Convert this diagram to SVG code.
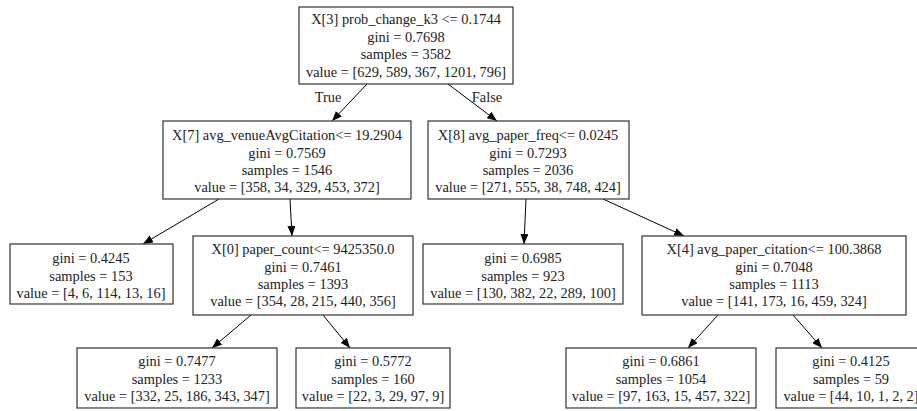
<svg xmlns="http://www.w3.org/2000/svg" width="917" height="411" viewBox="0 0 917 411">
<defs>
<marker id="ah" markerWidth="10" markerHeight="8" refX="10" refY="4" orient="auto" markerUnits="userSpaceOnUse">
<path d="M0,0 L10,4 L0,8 z" fill="#000"/>
</marker>
<style>
rect{fill:#fff;stroke:#333;stroke-width:1.2}
text{font-family:"Liberation Serif","Times New Roman",serif;font-size:14.4px;fill:#222;text-anchor:middle}
.e line{stroke:#000;stroke-width:1;marker-end:url(#ah)}
</style>
</defs>
<rect x="0" y="0" width="917" height="411" style="stroke:none"/>
<g class="e" id="edges">
<line x1="367" y1="84" x2="332" y2="121"/>
<line x1="448" y1="84" x2="497" y2="121"/>
<line x1="219" y1="199" x2="143" y2="244"/>
<line x1="290" y1="199" x2="292" y2="236"/>
<line x1="526" y1="199" x2="524" y2="244"/>
<line x1="603" y1="199" x2="684" y2="236"/>
<line x1="251" y1="315" x2="212" y2="348"/>
<line x1="323" y1="315" x2="350" y2="348"/>
<line x1="718" y1="315" x2="688" y2="348"/>
<line x1="793" y1="315" x2="822" y2="348"/>
<text x="328" y="102">True</text>
<text x="487" y="102">False</text>
</g>
<g id="n0">
<rect x="299" y="7" width="214" height="77"/>
<text x="406" y="24">X[3] prob_change_k3 &lt;= 0.1744</text>
<text x="406" y="42">gini = 0.7698</text>
<text x="406" y="59">samples = 3582</text>
<text x="406" y="77">value = [629, 589, 367, 1201, 796]</text>
</g>
<g id="n1">
<rect x="163" y="121" width="248" height="78"/>
<text x="287" y="140">X[7] avg_venueAvgCitation&lt;= 19.2904</text>
<text x="287" y="158">gini = 0.7569</text>
<text x="287" y="175">samples = 1546</text>
<text x="287" y="192">value = [358, 34, 329, 453, 372]</text>
</g>
<g id="n2">
<rect x="428" y="121" width="201" height="78"/>
<text x="528" y="140">X[8] avg_paper_freq&lt;= 0.0245</text>
<text x="528" y="158">gini = 0.7293</text>
<text x="528" y="175">samples = 2036</text>
<text x="528" y="192">value = [271, 555, 38, 748, 424]</text>
</g>
<g id="n3">
<rect x="10" y="244" width="163" height="60"/>
<text x="91" y="263">gini = 0.4245</text>
<text x="91" y="281">samples = 153</text>
<text x="91" y="298">value = [4, 6, 114, 13, 16]</text>
</g>
<g id="n4">
<rect x="193" y="236" width="220" height="79"/>
<text x="303" y="254">X[0] paper_count&lt;= 9425350.0</text>
<text x="303" y="272">gini = 0.7461</text>
<text x="303" y="289">samples = 1393</text>
<text x="303" y="306">value = [354, 28, 215, 440, 356]</text>
</g>
<g id="n5">
<rect x="423" y="244" width="200" height="60"/>
<text x="523" y="263">gini = 0.6985</text>
<text x="523" y="281">samples = 923</text>
<text x="523" y="298">value = [130, 382, 22, 289, 100]</text>
</g>
<g id="n6">
<rect x="642" y="236" width="264" height="79"/>
<text x="774" y="254">X[4] avg_paper_citation&lt;= 100.3868</text>
<text x="774" y="272">gini = 0.7048</text>
<text x="774" y="289">samples = 1113</text>
<text x="774" y="306">value = [141, 173, 16, 459, 324]</text>
</g>
<g id="n7">
<rect x="77" y="348" width="200" height="60"/>
<text x="177" y="366">gini = 0.7477</text>
<text x="177" y="384">samples = 1233</text>
<text x="177" y="401">value = [332, 25, 186, 343, 347]</text>
</g>
<g id="n8">
<rect x="296" y="348" width="154" height="60"/>
<text x="373" y="366">gini = 0.5772</text>
<text x="373" y="384">samples = 160</text>
<text x="373" y="401">value = [22, 3, 29, 97, 9]</text>
</g>
<g id="n9">
<rect x="566" y="348" width="190" height="60"/>
<text x="661" y="366">gini = 0.6861</text>
<text x="661" y="384">samples = 1054</text>
<text x="661" y="401">value = [97, 163, 15, 457, 322]</text>
</g>
<g id="n10">
<rect x="776" y="348" width="150" height="60"/>
<text x="851" y="366">gini = 0.4125</text>
<text x="851" y="384">samples = 59</text>
<text x="851" y="401">value = [44, 10, 1, 2, 2]</text>
</g>
</svg>
